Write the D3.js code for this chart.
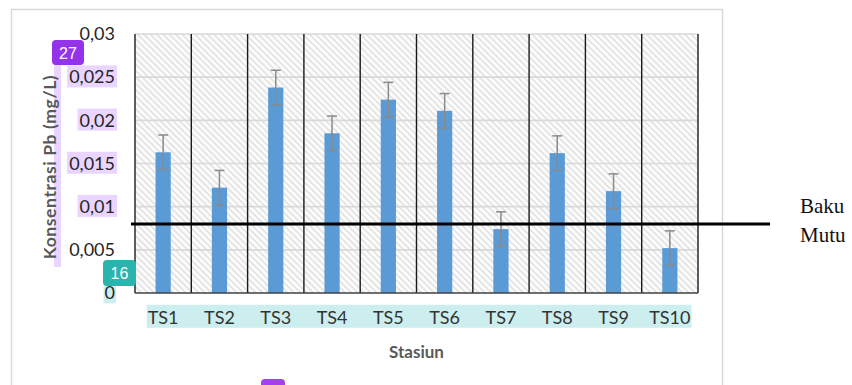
<!DOCTYPE html>
<html>
<head>
<meta charset="utf-8">
<script src="https://cdn.jsdelivr.net/npm/d3@7/dist/d3.min.js"></script>
<style>
  html, body { margin: 0; padding: 0; background: #fff; }
  svg { display: block; }
</style>
</head>
<body>
<svg id="chart" width="852" height="385"></svg>
<script>
// Lead (Pb) concentration per station, with standard error and the quality threshold
const categories = ["TS1", "TS2", "TS3", "TS4", "TS5", "TS6", "TS7", "TS8", "TS9", "TS10"];
const values = [0.0163, 0.0122, 0.0238, 0.0185, 0.0224, 0.0211, 0.0074, 0.0162, 0.0118, 0.0052];
const errors = [0.002, 0.002, 0.002, 0.002, 0.002, 0.002, 0.002, 0.002, 0.002, 0.002];
const bakuMutu = 0.008;
const yTicks = [0, 0.005, 0.01, 0.015, 0.02, 0.025, 0.03];
const yHighlighted = [0.01, 0.015, 0.02, 0.025];
const yTitle = "Konsentrasi Pb (mg/L)";
const xTitle = "Stasiun";
const thresholdLabel = ["Baku", "Mutu"];
const badges = ["27", "16"];

const svg = d3.select("#chart");
const plot = { left: 135, top: 34, right: 698, bottom: 293 };
const sans = "Lato, 'Open Sans', sans-serif";

const x = d3.scaleBand()
  .domain(categories)
  .range([plot.left, plot.right])
  .paddingInner(0.73)
  .paddingOuter(0.365);
const step = x.step();
const y = d3.scaleLinear().domain([0, 0.03]).range([plot.bottom, plot.top]);

// outer chart frame
svg.append("rect")
  .attr("x", 11.5).attr("y", 9.5).attr("width", 711).attr("height", 400)
  .attr("fill", "#fff").attr("stroke", "#d9d9d9").attr("stroke-width", 1.5);

// diagonal hatch fill for the plot area
const defs = svg.append("defs");
const pat = defs.append("pattern")
  .attr("id", "hatch").attr("patternUnits", "userSpaceOnUse")
  .attr("width", 4.5).attr("height", 4.5)
  .attr("patternTransform", "rotate(-45)");
pat.append("rect").attr("width", 4.5).attr("height", 4.5).attr("fill", "#fcfcfc");
pat.append("line").attr("x1", 1).attr("y1", 0).attr("x2", 1).attr("y2", 4.5)
  .attr("stroke", "#e0e0e0").attr("stroke-width", 1.5);

svg.append("rect")
  .attr("x", plot.left).attr("y", plot.top)
  .attr("width", plot.right - plot.left).attr("height", plot.bottom - plot.top)
  .attr("fill", "url(#hatch)");

// horizontal gridlines
svg.append("g").selectAll("line")
  .data(yTicks.filter(d => d > 0))
  .join("line")
  .attr("x1", plot.left).attr("x2", plot.right)
  .attr("y1", d => y(d)).attr("y2", d => y(d))
  .attr("stroke", "#d9d9d9").attr("stroke-width", 1.6);

// vertical separators between stations
const edges = d3.range(categories.length + 1).map(i => plot.left + i * step);
svg.append("g").selectAll("line")
  .data(edges)
  .join("line")
  .attr("x1", d => d).attr("x2", d => d)
  .attr("y1", plot.top).attr("y2", plot.bottom)
  .attr("stroke", "#1a1a1a").attr("stroke-width", 1.4);

// bars
svg.append("g").selectAll("rect")
  .data(categories)
  .join("rect")
  .attr("x", d => x(d))
  .attr("width", x.bandwidth())
  .attr("y", (d, i) => y(values[i]))
  .attr("height", (d, i) => y(0) - y(values[i]))
  .attr("fill", "#5b9bd5");

// error bars
const eb = svg.append("g").attr("stroke", "#8a8a8a").attr("stroke-width", 1.5);
categories.forEach((c, i) => {
  const cx = x(c) + x.bandwidth() / 2;
  const hi = y(values[i] + errors[i]), lo = y(values[i] - errors[i]);
  eb.append("line").attr("x1", cx).attr("x2", cx).attr("y1", hi).attr("y2", lo);
  eb.append("line").attr("x1", cx - 5).attr("x2", cx + 5).attr("y1", hi).attr("y2", hi);
  eb.append("line").attr("x1", cx - 5).attr("x2", cx + 5).attr("y1", lo).attr("y2", lo);
});

// category axis line
svg.append("line")
  .attr("x1", plot.left).attr("x2", plot.right)
  .attr("y1", plot.bottom).attr("y2", plot.bottom)
  .attr("stroke", "#404040").attr("stroke-width", 1.5);

// threshold line
svg.append("line")
  .attr("x1", plot.left - 4).attr("x2", 770)
  .attr("y1", y(bakuMutu)).attr("y2", y(bakuMutu))
  .attr("stroke", "#000").attr("stroke-width", 3);

svg.append("text")
  .attr("x", 800).attr("y", y(bakuMutu) - 11)
  .attr("font-family", "'Liberation Serif', 'Times New Roman', serif")
  .attr("font-size", 21).attr("fill", "#111")
  .selectAll("tspan").data(thresholdLabel).join("tspan")
  .attr("x", 800).attr("dy", (d, i) => i === 0 ? 0 : 29)
  .text(d => d);

// y axis
const fmt = d => d === 0 ? "0" : String(d).replace(".", ",");
const yAxisG = svg.append("g")
  .attr("transform", `translate(${plot.left},0)`)
  .call(d3.axisLeft(y).tickValues(yTicks).tickFormat(fmt).tickSize(0).tickPadding(20));
yAxisG.select(".domain").remove();
yAxisG.selectAll("text")
  .attr("font-family", sans).attr("font-size", 18).attr("fill", "#262626");

// x axis labels
const xAxisG = svg.append("g")
  .attr("transform", `translate(0,${plot.bottom})`)
  .call(d3.axisBottom(x).tickSize(0).tickPadding(18));
xAxisG.select(".domain").remove();
xAxisG.selectAll("text")
  .attr("font-family", sans).attr("font-size", 18).attr("fill", "#333");

// highlight boxes behind selected labels (inserted underneath the text)
function boxBehind(textNode, fill, padX, padY) {
  const b = textNode.getBBox();
  d3.select(textNode.parentNode).insert("rect", "text")
    .attr("x", b.x - padX).attr("y", b.y - padY)
    .attr("width", b.width + 2 * padX).attr("height", b.height + 2 * padY)
    .attr("fill", fill);
}
yAxisG.selectAll(".tick").each(function(d) {
  const t = d3.select(this).select("text").node();
  if (yHighlighted.includes(d)) boxBehind(t, "#e9d5ff", 2, 0);
  if (d === 0) boxBehind(t, "#cdeeee", 1, 0);
});

// one band behind all station labels
const tb = xAxisG.selectAll("text").nodes().map(n => {
  const b = n.getBBox();
  const cx = x(n.textContent) + x.bandwidth() / 2;
  return { x0: cx + b.x, x1: cx + b.x + b.width, y0: b.y, y1: b.y + b.height };
});
xAxisG.insert("rect", ".tick")
  .attr("x", d3.min(tb, d => d.x0) - 1)
  .attr("y", d3.min(tb, d => d.y0) - 1)
  .attr("width", d3.max(tb, d => d.x1) - d3.min(tb, d => d.x0) + 2)
  .attr("height", d3.max(tb, d => d.y1) - d3.min(tb, d => d.y0) + 1)
  .attr("fill", "#cdeeee");

// axis titles
svg.append("rect")
  .attr("x", 54).attr("y", 50).attr("width", 7).attr("height", 217)
  .attr("fill", "#e9d5ff");
svg.append("text")
  .attr("transform", "translate(56,167) rotate(-90)")
  .attr("text-anchor", "middle")
  .attr("font-family", sans).attr("font-size", 17.5).attr("font-weight", "bold")
  .attr("letter-spacing", 0.6)
  .attr("fill", "#595959")
  .text(yTitle);

svg.append("text")
  .attr("x", (plot.left + plot.right) / 2).attr("y", 358)
  .attr("text-anchor", "middle")
  .attr("font-family", sans).attr("font-size", 17).attr("font-weight", "bold")
  .attr("fill", "#595959")
  .text(xTitle);

// badges
function badge(bx, by, w, h, fill, label) {
  svg.append("rect").attr("x", bx).attr("y", by).attr("width", w).attr("height", h)
    .attr("rx", 4).attr("fill", fill);
  if (label) {
    svg.append("text")
      .attr("x", bx + w / 2).attr("y", by + h / 2 + 6)
      .attr("text-anchor", "middle")
      .attr("font-family", "'Liberation Sans', Arial, sans-serif")
      .attr("font-size", 16).attr("fill", "#fff")
      .text(label);
  }
}
badge(52, 40, 32, 25, "#9333ea", badges[0]);
badge(103, 260, 33, 26, "#2bb3ad", badges[1]);
badge(261, 379, 24, 14, "#a43ff5", null);
</script>
</body>
</html>
